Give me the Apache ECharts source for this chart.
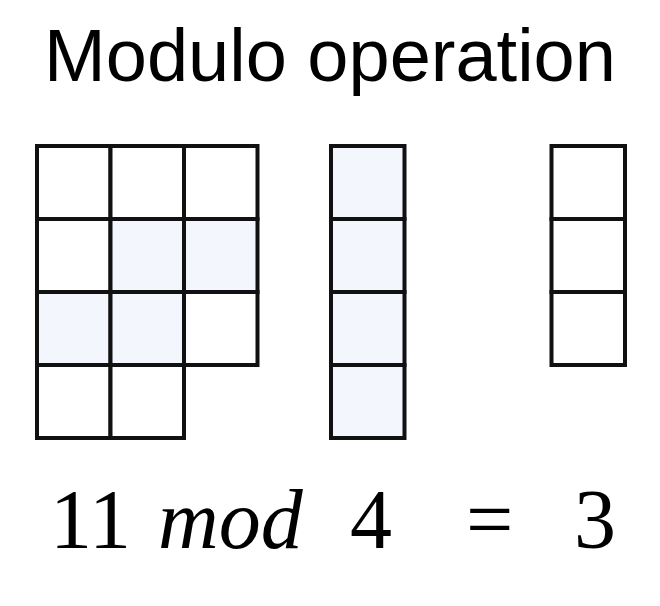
<!DOCTYPE html>
<html><head><meta charset="utf-8">
<script src="https://cdn.jsdelivr.net/npm/echarts@6/dist/echarts.min.js"></script>
<style>html,body{margin:0;background:#fff}#c{width:660px;height:606px}</style>
</head><body><div id="c"></div>
<script>
// cell grid: column, row, shaded (1) or white (0)
var cellCols = [0, 1, 2, 0, 1, 2, 0, 1, 2, 0, 1, 4, 4, 4, 4, 7, 7, 7];
var cellRows = [0, 0, 0, 1, 1, 1, 2, 2, 2, 3, 3, 0, 1, 2, 3, 0, 1, 2];
var cellShade = [0, 0, 0, 0, 1, 1, 1, 1, 0, 0, 0, 1, 1, 1, 1, 0, 0, 0];

var cells = [];
for (var i = 0; i < cellCols.length; i++) {
	cells.push([cellCols[i], cellRows[i], cellShade[i]]);
}

var myChart = echarts.init(document.getElementById('c'));
var option = {
	animation: false,
	backgroundColor: '#fff',
	grid: { left: 37, top: 146, width: 588, height: 292 },
	xAxis: { type: 'value', min: 0, max: 8, show: false },
	yAxis: { type: 'value', min: 0, max: 4, inverse: true, show: false },
	graphic: [
		{ type: 'text', left: 'center', top: 24, style: { text: 'Modulo operation', font: '74px "Liberation Sans", Arial', fill: '#000' } },
		{ type: 'text', left: 50, top: 484, style: { text: '11', font: '84px "Liberation Serif", serif', fill: '#000' } },
		{ type: 'text', left: 158, top: 484, style: { text: 'mod', font: 'italic 84px "Liberation Serif", serif', fill: '#000' } },
		{ type: 'text', left: 350, top: 484, style: { text: '4', font: '84px "Liberation Serif", serif', fill: '#000' } },
		{ type: 'text', left: 466, top: 484, style: { text: '=', font: '84px "Liberation Serif", serif', fill: '#000' } },
		{ type: 'text', left: 574, top: 484, style: { text: '3', font: '84px "Liberation Serif", serif', fill: '#000' } }
	],
	series: [{
		type: 'custom',
		data: cells,
		renderItem: function(params, api) {
			var p0 = api.coord([api.value(0), api.value(1)]);
			var p1 = api.coord([api.value(0) + 1, api.value(1) + 1]);
			return {
				type: 'rect',
				shape: { x: p0[0], y: p0[1], width: p1[0] - p0[0], height: p1[1] - p0[1] },
				style: { fill: api.value(2) ? '#f4f6fd' : '#fff', stroke: '#111', lineWidth: 4 }
			};
		}
	}]
};
myChart.setOption(option);
</script></body></html>
